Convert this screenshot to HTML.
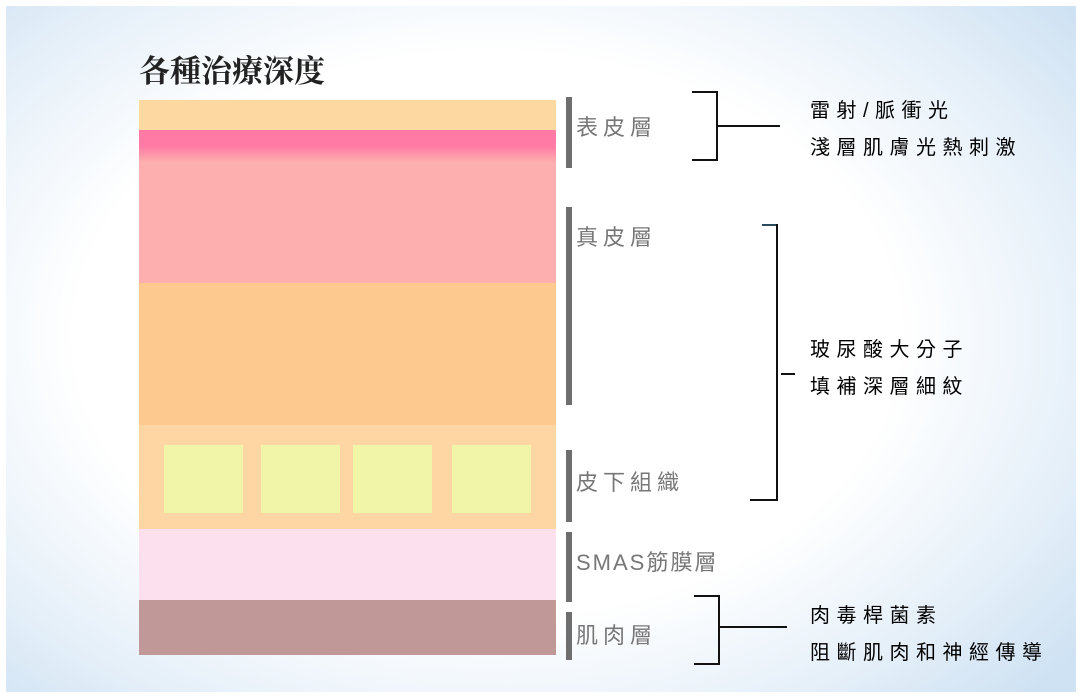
<!DOCTYPE html>
<html><head><meta charset="utf-8"><style>
body{margin:0;width:1082px;height:698px;overflow:hidden;font-family:"Liberation Sans","Noto Sans CJK TC",sans-serif;}
.bg{position:absolute;left:0;top:0;width:1082px;height:698px;background:#fff;}
.in{position:absolute;left:6px;top:6px;width:1070px;height:686px;
background:radial-gradient(ellipse 70% 75% at 45% 48%,#ffffff 55%,#e6f0f9 80%,#cfe2f3 100%);}
.a{position:absolute}
.l{position:absolute;left:139px;width:417px}
.y{position:absolute;top:445px;height:68px;background:#f1f5a8}
.g{position:absolute;left:566px;width:6px;background:#6e6e6e}
.lb{position:absolute;left:576px;font-size:22px;color:#777;letter-spacing:5px}
.k{position:absolute;background:#111}
.t{position:absolute;left:810px;font-size:20px;color:#000;letter-spacing:6.5px;white-space:nowrap}
</style></head><body>
<div class="bg"></div><div class="in"></div>
<div class="a" style="left:139px;top:46px;font-family:'Liberation Serif','Noto Serif CJK SC',serif;font-size:31px;font-weight:bold;color:#222">各種治療深度</div>
<div class="l" style="top:100px;height:30px;background:#fdd8a0"></div>
<div class="l" style="top:130px;height:32px;background:linear-gradient(#ff7aa5 0,#ff7aa5 50%,#fdaeae 100%)"></div>
<div class="l" style="top:162px;height:121px;background:#fdaeae"></div>
<div class="l" style="top:283px;height:142px;background:#fec98f"></div>
<div class="l" style="top:425px;height:104px;background:#fdd6a3"></div>
<div class="y" style="left:164px;width:79px"></div>
<div class="y" style="left:261px;width:79px"></div>
<div class="y" style="left:353px;width:79px"></div>
<div class="y" style="left:452px;width:79px"></div>
<div class="l" style="top:529px;height:71px;background:#fde0ee"></div>
<div class="l" style="top:600px;height:55px;background:#c19898"></div>
<div class="g" style="top:97px;height:71px"></div>
<div class="g" style="top:207px;height:198px"></div>
<div class="g" style="top:450px;height:72px"></div>
<div class="g" style="top:532px;height:70px"></div>
<div class="g" style="top:612px;height:48px"></div>
<div class="lb" style="top:110px">表皮層</div>
<div class="lb" style="top:220px">真皮層</div>
<div class="lb" style="top:465px">皮下組織</div>
<div class="lb" style="top:545px;letter-spacing:2px">SMAS筋膜層</div>
<div class="lb" style="top:618px">肌肉層</div>
<div class="k" style="left:692px;top:91px;width:26px;height:2px"></div>
<div class="k" style="left:716px;top:91px;width:2px;height:70px"></div>
<div class="k" style="left:692px;top:159px;width:26px;height:2px"></div>
<div class="k" style="left:718px;top:125px;width:62px;height:2px"></div>
<div class="k" style="left:762px;top:224px;width:16px;height:2px;background:#2a4a60"></div>
<div class="k" style="left:776px;top:224px;width:2px;height:277px"></div>
<div class="k" style="left:750px;top:499px;width:28px;height:2px"></div>
<div class="k" style="left:781px;top:373px;width:14px;height:2px"></div>
<div class="k" style="left:694px;top:595px;width:26px;height:2px"></div>
<div class="k" style="left:718px;top:595px;width:2px;height:70px"></div>
<div class="k" style="left:694px;top:663px;width:26px;height:2px"></div>
<div class="k" style="left:720px;top:626px;width:67px;height:2px"></div>
<div class="t" style="top:94px">雷射/脈衝光</div>
<div class="t" style="top:131px">淺層肌膚光熱刺激</div>
<div class="t" style="top:333px">玻尿酸大分子</div>
<div class="t" style="top:370px">填補深層細紋</div>
<div class="t" style="top:599px">肉毒桿菌素</div>
<div class="t" style="top:636px">阻斷肌肉和神經傳導</div>
</body></html>
